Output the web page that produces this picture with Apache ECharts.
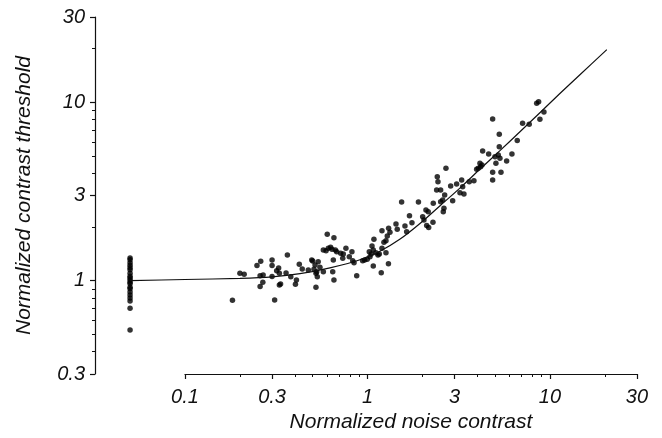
<!DOCTYPE html>
<html><head><meta charset="utf-8">
<script src="https://cdn.jsdelivr.net/npm/echarts@6.0.0/dist/echarts.min.js"></script>
<style>html,body{margin:0;padding:0;background:#fff}#c{width:662px;height:438px}</style>
</head><body><div id="c"></div>
<script>
const xTickValues = [0.1, 0.3, 1, 3, 10, 30];
const xTickLabels = ['0.1', '0.3', '1', '3', '10', '30'];
const xMinorTicks = [0.2, 0.4, 0.5, 0.6, 0.7, 0.8, 0.9, 2, 4, 5, 6, 7, 8, 9, 20];
const yTickValues = [0.3, 1, 3, 10, 30];
const yTickLabels = ['0.3', '1', '3', '10', '30'];
const yMinorTicks = [0.4, 0.5, 0.6, 0.7, 0.8, 0.9, 2, 4, 5, 6, 7, 8, 9, 20];

// zero-noise condition, plotted left of the noise axis
const zeroNoiseX = 0.05;
const zeroNoiseThreshold = [1.34, 1.31, 1.26, 1.22, 1.18, 1.15, 1.10, 1.06, 1.035, 1.01,
  0.98, 0.96, 0.92, 0.90, 0.865, 0.83, 0.80, 0.77, 0.70, 0.53];

const noiseContrast = [0.182, 0.200, 0.211, 0.248, 0.260, 0.258, 0.268, 0.258, 0.267, 0.300,
  0.300, 0.300, 0.310, 0.326, 0.318, 0.329, 0.329, 0.334, 0.364, 0.358,
  0.380, 0.408, 0.403, 0.423, 0.439, 0.474, 0.495, 0.516, 0.527, 0.522,
  0.537, 0.501, 0.509, 0.522, 0.531, 0.549, 0.573, 0.573, 0.593, 0.610,
  0.628, 0.639, 0.602, 0.655, 0.650, 0.645, 0.655, 0.667, 0.678, 0.713,
  0.732, 0.737, 0.762, 0.795, 0.822, 0.830, 0.844, 0.873, 0.941, 0.965,
  0.997, 1.032, 1.049, 1.023, 1.076, 1.059, 1.085, 1.113, 1.142, 1.161,
  1.201, 1.076, 1.190, 1.303, 1.231, 1.263, 1.284, 1.201, 1.306, 1.328,
  1.433, 1.456, 1.605, 1.753, 1.640, 1.699, 1.539, 1.903, 1.263, 2.007,
  2.040, 2.092, 2.153, 2.111, 2.165, 2.285, 2.294, 2.518, 2.583, 2.625,
  2.603, 2.413, 2.434, 2.394, 2.518, 2.649, 2.692, 2.857, 2.930, 3.081,
  3.213, 3.283, 3.324, 3.379, 3.613, 3.833, 4.047, 4.135, 4.170, 4.241,
  4.278, 4.615, 4.853, 5.276, 5.276, 5.210, 4.998, 5.321, 5.058, 4.853,
  5.391, 4.853, 5.790, 6.19, 6.62, 7.08, 7.70, 8.46, 8.67, 8.81,
  9.27, 3.966];
const contrastThreshold = [0.777, 1.10, 1.086, 1.217, 1.286, 1.067, 1.076, 0.928, 0.981, 1.306,
  1.217, 1.056, 0.778, 1.178, 1.138, 1.10, 0.946, 0.958, 1.393, 1.104,
  1.053, 1.009, 0.954, 1.237, 1.163, 1.148, 1.306, 1.224, 1.123, 0.918,
  1.278, 1.289, 1.158, 1.10, 1.053, 1.189, 1.123, 1.486, 1.472, 1.519,
  1.538, 1.50, 1.82, 1.741, 1.306, 1.123, 1.009, 1.486, 1.454, 1.424,
  1.335, 1.411, 1.519, 1.363, 1.454, 1.294, 1.261, 1.067, 1.294, 1.306,
  1.318, 1.363, 1.411, 1.454, 1.486, 1.564, 1.706, 1.435, 1.393, 1.411,
  1.519, 1.209, 1.109, 1.245, 1.641, 1.675, 1.780, 1.906, 1.966, 1.867,
  2.078, 1.941, 2.024, 2.113, 1.882, 2.313, 2.760, 2.760, 1.435, 2.283,
  2.188, 2.489, 2.436, 2.038, 1.987, 2.127, 2.714, 2.771, 2.832, 2.545,
  2.436, 3.825, 3.586, 3.222, 3.222, 3.021, 4.264, 3.393, 2.806, 3.481,
  3.112, 3.665, 3.363, 3.060, 3.586, 3.632, 4.264, 4.548, 4.353, 4.448,
  5.330, 5.126, 8.05, 6.607, 5.634, 5.060, 4.951, 4.850, 4.548, 4.049,
  4.049, 3.665, 4.684, 5.126, 6.10, 7.62, 7.52, 9.86, 10.07, 8.02,
  8.81, 4.207];

// fitted curve
const fitNoise = [0.05, 0.1, 0.2, 0.3, 0.427, 0.623, 0.91, 1.17, 1.51, 1.94, 2.50, 3.21, 4.13, 5.32, 6.85, 8.81, 11.3, 14.6, 20.5];
const fitThreshold = [1.0, 1.015, 1.03, 1.05, 1.094, 1.18, 1.31, 1.46, 1.71, 2.09, 2.63, 3.30, 4.21, 5.35, 6.83, 8.73, 11.15, 14.25, 19.7];

const FONT = '"Liberation Sans", Arial, Helvetica, sans-serif';
function lookup(values, labels) {
  return function (v) {
    const i = values.findIndex(t => Math.abs(Math.log10(t) - Math.log10(v)) < 1e-4);
    return i >= 0 ? labels[i] : '';
  };
}
const labelStyle = { color: '#111', fontSize: 20, fontStyle: 'italic', fontFamily: FONT };
const nameStyle = { color: '#111', fontSize: 21, fontStyle: 'italic', fontFamily: FONT };
const lineStyle = { color: '#111', width: 1.2 };

const chart = echarts.init(document.getElementById('c'), null, { renderer: 'canvas' });
chart.setOption({
  animation: false,
  backgroundColor: '#fff',
  grid: [
    { left: 95, right: 25, top: 17, bottom: 64 },
    { left: 185, right: 25, top: 17, bottom: 64 }
  ],
  xAxis: [
    { type: 'log', gridIndex: 0, min: Math.pow(10, -1.4932), max: 30, show: false },
    {
      type: 'log', gridIndex: 1, min: 0.09999, max: 30.001, position: 'bottom',
      name: 'Normalized noise contrast', nameLocation: 'middle', nameGap: 37, nameTextStyle: nameStyle,
      axisLine: { show: true, lineStyle: lineStyle },
      axisTick: { show: true, length: 5, lineStyle: lineStyle, customValues: xTickValues },
      axisLabel: Object.assign({ show: true, margin: 13, customValues: xTickValues, formatter: lookup(xTickValues, xTickLabels) }, labelStyle),
      splitLine: { show: false }, minorTick: { show: false }
    },
    {
      type: 'log', gridIndex: 1, min: 0.09999, max: 30.001, position: 'bottom',
      axisLine: { show: false },
      axisTick: { show: true, length: 3, lineStyle: { color: '#111', width: 1 }, customValues: xMinorTicks },
      axisLabel: { show: false }, splitLine: { show: false }
    }
  ],
  yAxis: [
    {
      type: 'log', gridIndex: 0, min: 0.29999, max: 30.001, position: 'left',
      name: 'Normalized contrast threshold', nameLocation: 'middle', nameGap: 60, nameTextStyle: nameStyle,
      axisLine: { show: true, lineStyle: lineStyle },
      axisTick: { show: true, length: 5, lineStyle: lineStyle, customValues: yTickValues },
      axisLabel: Object.assign({ show: true, margin: 10, customValues: yTickValues, formatter: lookup(yTickValues, yTickLabels) }, labelStyle),
      splitLine: { show: false }
    },
    {
      type: 'log', gridIndex: 0, min: 0.29999, max: 30.001, position: 'left',
      axisLine: { show: false },
      axisTick: { show: true, length: 3, lineStyle: { color: '#111', width: 1 }, customValues: yMinorTicks },
      axisLabel: { show: false }, splitLine: { show: false }
    },
    { type: 'log', gridIndex: 1, min: 0.29999, max: 30.001, show: false }
  ],
  series: [
    {
      type: 'line', xAxisIndex: 0, yAxisIndex: 0, smooth: 0.3, symbol: 'none',
      lineStyle: { color: '#111', width: 1.2 },
      data: fitNoise.map((x, i) => [x, fitThreshold[i]])
    },
    {
      type: 'scatter', xAxisIndex: 0, yAxisIndex: 0, symbolSize: 5.5,
      itemStyle: { color: '#000' },
      data: zeroNoiseThreshold.map(y => [zeroNoiseX, y])
    },
    {
      type: 'scatter', xAxisIndex: 0, yAxisIndex: 0, symbolSize: 5.5,
      itemStyle: { color: '#000' },
      data: noiseContrast.map((x, i) => [x, contrastThreshold[i]])
    }
  ]
});
</script>
</body></html>
